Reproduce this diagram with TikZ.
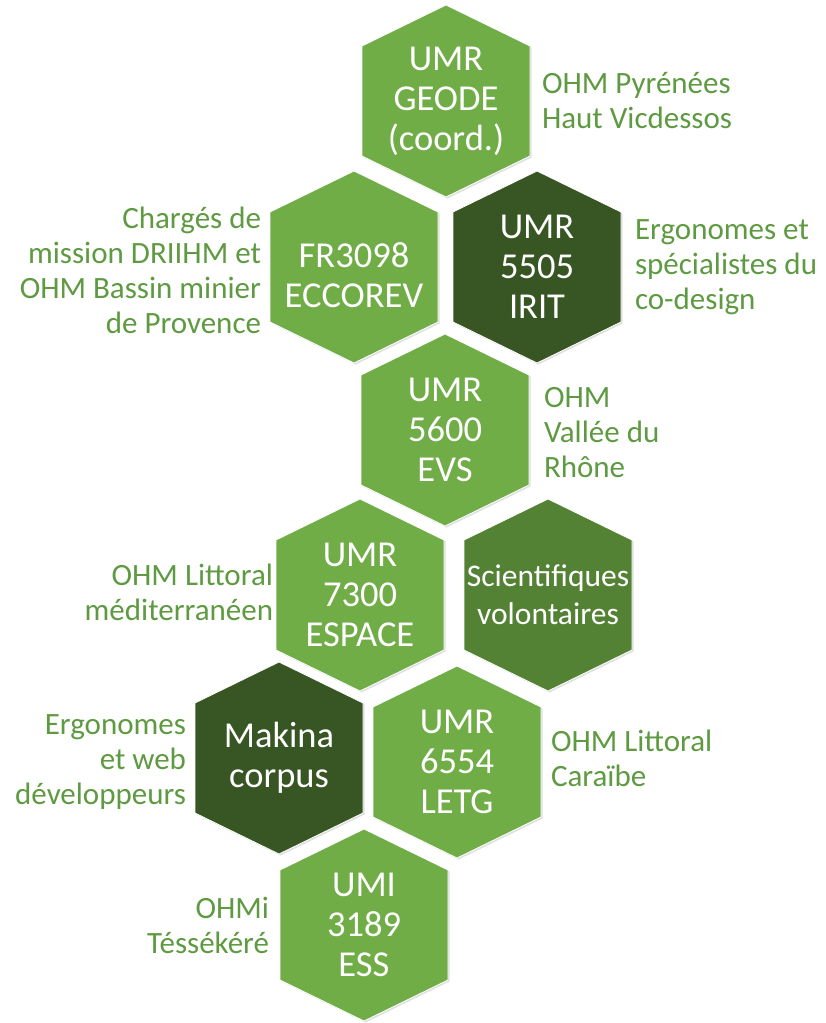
\documentclass[tikz,border=0pt]{standalone}
\usepackage{fontspec}
\setmainfont{Carlito}
\usetikzlibrary{shadows}

\definecolor{hexlight}{HTML}{70AD47}
\definecolor{hexdark}{HTML}{375623}
\definecolor{hexmid}{HTML}{548235}
\definecolor{lblgreen}{HTML}{5E9A41}

% hexagon cell: [text options]{name}{x}{y}{fill}{text}
\newcommand{\hexcell}[6][]{%
  \fill[#5, draw=white, line width=0.8pt,
    drop shadow={shadow xshift=1.5pt, shadow yshift=-1.5pt, opacity=0.25}]
    (#3-84,#4-55) -- (#3,#4-96) -- (#3+84,#4-55) -- (#3+84,#4+55)
    -- (#3,#4+96) -- (#3-84,#4+55) -- cycle;
  \node[hex text, #1] (#2) at (#3,#4) {#6};
}

\begin{document}
\begin{tikzpicture}[x=1pt, y=-1pt, inner sep=0pt, outer sep=0pt,
    hex text/.style={text=white, align=center, font=\fontsize{36.5}{40}\selectfont},
    lbl/.style={text=lblgreen, font=\fontsize{31}{35}\selectfont}]
    \useasboundingbox (0,0) rectangle (825,1023);

    % hexagons
    \hexcell{geode}{446}{101}{hexlight}{UMR\\GEODE\\(coord.)}
    \hexcell[yshift=-8pt]{eccorev}{354}{267}{hexlight}{FR3098\\ECCOREV}
    \hexcell{irit}{537}{267}{hexdark}{UMR\\5505\\IRIT}
    \hexcell{evs}{445}{430}{hexlight}{UMR\\5600\\EVS}
    \hexcell{espace}{360}{595}{hexlight}{UMR\\7300\\ESPACE}
    \hexcell[font=\fontsize{31.5}{38}\selectfont]{scivol}{548}{595}{hexmid}{Scientifiques\\volontaires}
    \hexcell{makina}{279}{758}{hexdark}{Makina\\corpus}
    \hexcell{letg}{457}{762}{hexlight}{UMR\\6554\\LETG}
    \hexcell{ess}{364}{925}{hexlight}{UMI\\3189\\ESS}

    % labels right
    \node[lbl, anchor=west, align=left] (geode_lbl) at (542,101) {OHM Pyrénées\\Haut Vicdessos};
    \node[lbl, anchor=west, align=left] (irit_lbl) at (635,267) {Ergonomes et\\spécialistes du\\co-design};
    \node[lbl, anchor=west, align=left] (evs_lbl) at (544,433) {OHM\\Vallée du\\Rhône};
    \node[lbl, anchor=west, align=left] (letg_lbl) at (551,758) {OHM Littoral\\Caraïbe};

    % labels left
    \node[lbl, anchor=east, align=right] (eccorev_lbl) at (261,270) {Chargés de\\mission DRIIHM et\\OHM Bassin minier\\de Provence};
    \node[lbl, anchor=east, align=right] (espace_lbl) at (273,592) {OHM Littoral\\méditerranéen};
    \node[lbl, anchor=east, align=right] (makina_lbl) at (186,762) {Ergonomes\\et web\\développeurs};
    \node[lbl, anchor=east, align=right] (ess_lbl) at (269,925) {OHMi\\Téssékéré};

\end{tikzpicture}
\end{document}
